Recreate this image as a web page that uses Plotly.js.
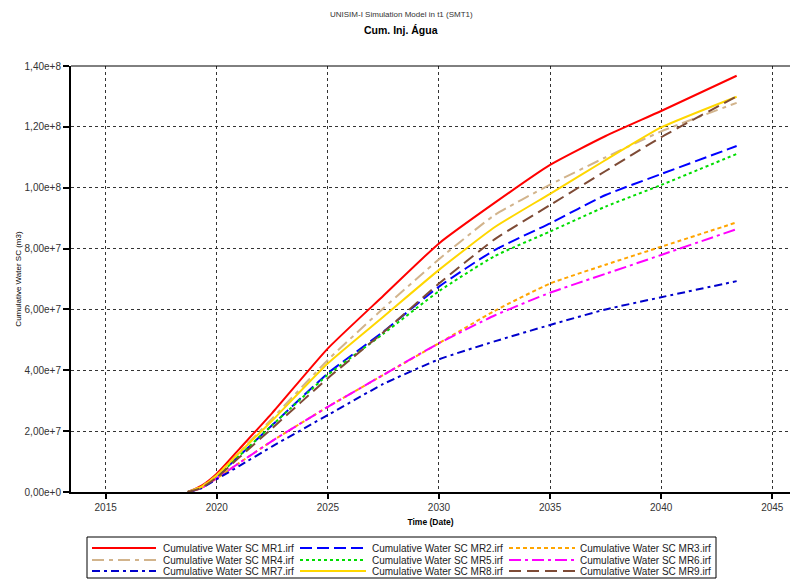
<!DOCTYPE html>
<html>
<head>
<meta charset="utf-8">
<script src="https://cdn.plot.ly/plotly-3.0.1.min.js"></script>
<style>html,body{margin:0;padding:0;background:#fff;}#chart{width:790px;height:581px;}</style>
</head>
<body>
<div id="chart"></div>
<script>
// ---- data ----
const dates = ["2018-09-12","2019-04-20","2020-01-01","2021-01-01","2022-07-02","2025-01-01","2027-07-02","2030-01-01","2032-07-02","2035-01-01","2037-07-02","2040-01-01","2043-05-26"];
const seriesNames = ["Cumulative Water SC MR1.irf","Cumulative Water SC MR2.irf","Cumulative Water SC MR3.irf",
                     "Cumulative Water SC MR4.irf","Cumulative Water SC MR5.irf","Cumulative Water SC MR6.irf",
                     "Cumulative Water SC MR7.irf","Cumulative Water SC MR8.irf","Cumulative Water SC MR9.irf"];
const mr1 = [0, 2.0e6, 6.0e6, 1.4e7, 2.6e7, 4.72e7, 6.45e7, 8.17e7, 9.5e7, 1.075e8, 1.17e8, 1.252e8, 1.368e8];
const mr2 = [0, 1.5e6, 5.0e6, 1.18e7, 2.2e7, 3.9e7, 5.27e7, 6.75e7, 7.95e7, 8.83e7, 9.76e7, 1.045e8, 1.137e8];
const mr3 = [0, 1.3e6, 4.5e6, 9.5e6, 1.68e7, 2.8e7, 3.85e7, 4.89e7, 5.95e7, 6.85e7, 7.47e7, 8.06e7, 8.86e7];
const mr4 = [0, 1.7e6, 5.5e6, 1.3e7, 2.42e7, 4.34e7, 6.04e7, 7.65e7, 9.1e7, 1.01e8, 1.10e8, 1.185e8, 1.279e8];
const mr5 = [0, 1.5e6, 5.0e6, 1.18e7, 2.2e7, 3.85e7, 5.2e7, 6.6e7, 7.75e7, 8.56e7, 9.38e7, 1.009e8, 1.111e8];
const mr6 = [0, 1.3e6, 4.5e6, 9.5e6, 1.68e7, 2.8e7, 3.85e7, 4.89e7, 5.8e7, 6.55e7, 7.17e7, 7.79e7, 8.64e7];
const mr7 = [0, 1.2e6, 4.2e6, 8.5e6, 1.5e7, 2.53e7, 3.55e7, 4.36e7, 4.95e7, 5.49e7, 6.0e7, 6.4e7, 6.93e7];
const mr8 = [0, 1.7e6, 5.5e6, 1.28e7, 2.35e7, 4.23e7, 5.76e7, 7.3e7, 8.7e7, 9.8e7, 1.091e8, 1.198e8, 1.299e8];
const mr9 = [0, 1.3e6, 4.8e6, 1.13e7, 2.1e7, 3.74e7, 5.25e7, 6.85e7, 8.3e7, 9.43e7, 1.055e8, 1.166e8, 1.30e8];
const xTickVals = ["2015-01-01","2020-01-01","2025-01-01","2030-01-01","2035-01-01","2040-01-01","2045-01-01"];
const xTickText = ["2015","2020","2025","2030","2035","2040","2045"];
const yTickVals = [0, 2e7, 4e7, 6e7, 8e7, 1e8, 1.2e8, 1.4e8];
const yTickText = ["0,00e+0","2,00e+7","4,00e+7","6,00e+7","8,00e+7","1,00e+8","1,20e+8","1,40e+8"];

// ---- styles ----
const allY = [mr1, mr2, mr3, mr4, mr5, mr6, mr7, mr8, mr9];
const colors = ["#FF0000","#0000FF","#FFA500","#D2B48C","#00DD00","#FF00FF","#0000CC","#FFD700","#7E4B36"];
const dashes = ["solid","12px,5px","4px,3px","12px,5px,4px,5px","3px,3px","12px,4px,3px,4px","8px,4px,3px,4px","solid","12px,6px"];

const traces = allY.map((y, i) => ({
  type: "scatter", mode: "lines", x: dates, y: y, name: seriesNames[i],
  line: {color: colors[i], width: 2, dash: dashes[i], shape: "spline", smoothing: 0.5},
  showlegend: false
}));

// geometry helpers (px -> paper)
const L = 71, T = 66, W = 719, H = 426;
const px = v => (v - L) / W;
const py = v => (T + H - v) / H;

const shapes = [
  {type: "line", xref: "paper", yref: "paper", x0: 0, x1: 1, y0: 1, y1: 1, line: {color: "#000", width: 1}},
  {type: "rect", xref: "paper", yref: "paper", x0: px(87), x1: px(716), y0: py(578), y1: py(537), line: {color: "#000", width: 1}, fillcolor: "rgba(0,0,0,0)"}
];
const annotations = [
  {xref: "paper", yref: "paper", x: px(401), y: py(14), text: "UNISIM-I Simulation Model in t1 (SMT1)", showarrow: false,
   font: {family: "Liberation Sans, Arial, sans-serif", size: 8, color: "#333"}, xanchor: "center", yanchor: "middle"},
  {xref: "paper", yref: "paper", x: px(401), y: py(30), text: "<b>Cum. Inj. Água</b>", showarrow: false,
   font: {family: "Liberation Sans, Arial, sans-serif", size: 10.5, color: "#000"}, xanchor: "center", yanchor: "middle"}
];
const colLineX = [[92, 156], [300, 366], [509, 575]];
const colTextX = [161, 370, 578];
const rowY = [548, 560, 571];
seriesNames.forEach((n, i) => {
  const c = i % 3, r = Math.floor(i / 3);
  shapes.push({type: "line", xref: "paper", yref: "paper", x0: px(colLineX[c][0]), x1: px(colLineX[c][1]),
    y0: py(rowY[r]), y1: py(rowY[r]), line: {color: colors[i], width: 2, dash: dashes[i]}});
  annotations.push({xref: "paper", yref: "paper", x: px(colTextX[c]), y: py(rowY[r]), text: n, showarrow: false,
    xanchor: "left", yanchor: "middle", font: {family: "Liberation Sans, Arial, sans-serif", size: 10, color: "#222"}});
});

const layout = {
  width: 790, height: 581,
  margin: {l: L, r: 0, t: T, b: 581 - T - H, pad: 0},
  paper_bgcolor: "#fff", plot_bgcolor: "#fff",
  showlegend: false,
  font: {family: "Liberation Sans, Arial, sans-serif", size: 10, color: "#333"},
  xaxis: {
    type: "date", range: ["2013-06-10", "2045-10-19"],
    tickvals: xTickVals, ticktext: xTickText, tickangle: 0,
    showline: true, linecolor: "#000", linewidth: 2,
    ticks: "outside", ticklen: 5, tickwidth: 2, tickcolor: "#000",
    showgrid: true, gridcolor: "#333", gridwidth: 1, griddash: "3px,3px",
    zeroline: false,
    tickfont: {size: 10, color: "#333"},
    title: {text: "<b>Time (Date)</b>", font: {size: 8.5, color: "#000"}, standoff: 7}
  },
  yaxis: {
    range: [0, 1.4e8], tickvals: yTickVals, ticktext: yTickText,
    showline: true, linecolor: "#000", linewidth: 2,
    ticks: "outside", ticklen: 6, tickwidth: 2, tickcolor: "#000",
    showgrid: true, gridcolor: "#333", gridwidth: 1, griddash: "3px,3px",
    zeroline: false,
    tickfont: {size: 10, color: "#333"},
    title: {text: "Cumulative Water SC (m3)", font: {size: 8, color: "#000"}, standoff: 2}
  },
  shapes: shapes,
  annotations: annotations
};

Plotly.newPlot("chart", traces, layout, {staticPlot: true, displayModeBar: false});
</script>
</body>
</html>
